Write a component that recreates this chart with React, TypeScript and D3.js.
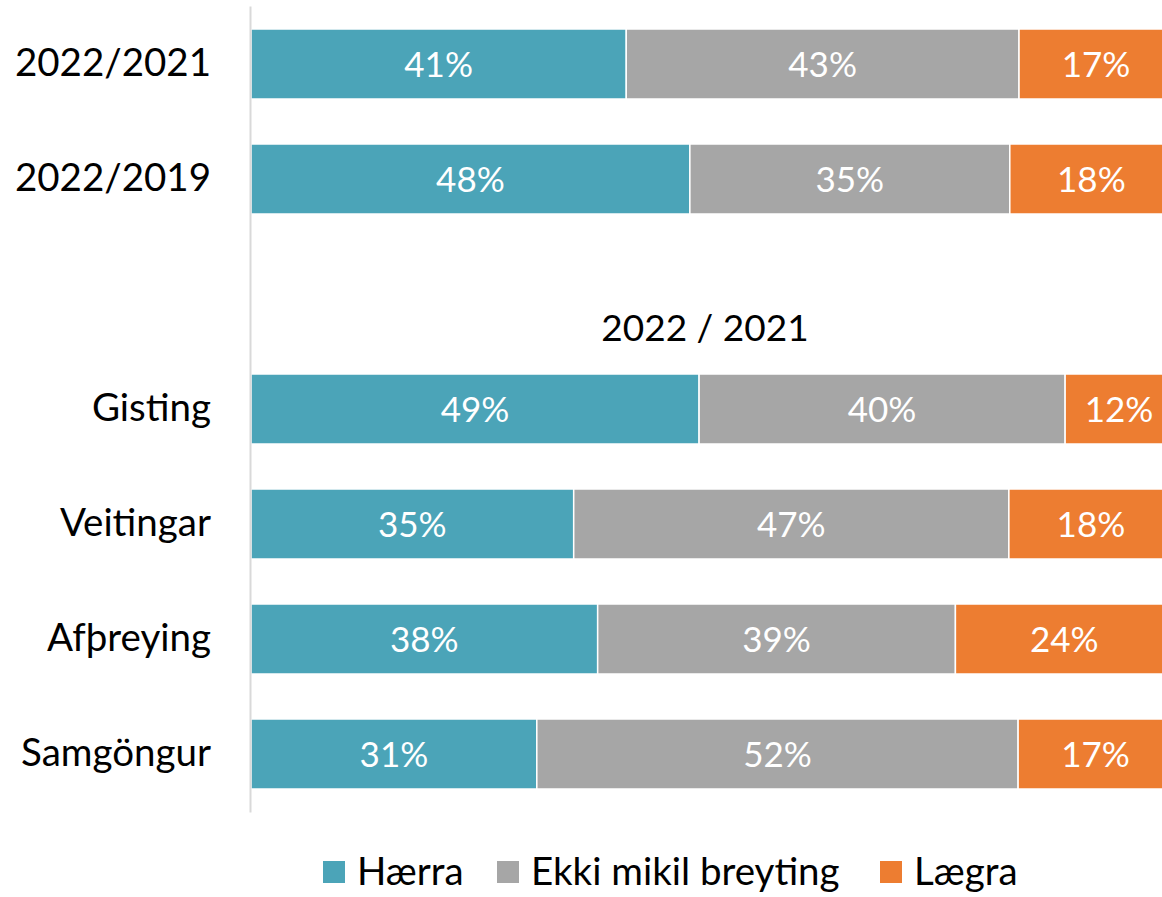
import { useEffect, useRef } from "react";
import * as d3 from "d3";

const categories = ["2022/2021", "2022/2019", "", "Gisting", "Veitingar", "Afþreying", "Samgöngur"];
const seriesNames = ["Hærra", "Ekki mikil breyting", "Lægra"];
const haerra = [40.7, 47.6, null, 48.6, 35.0, 37.6, 31.0];
const ekki = [42.6, 34.7, null, 39.7, 47.2, 38.8, 52.2];
const laegra = [16.7, 17.7, null, 11.7, 17.8, 23.6, 16.8];
const subtitle = "2022 / 2021";
const colors = ["#4BA4B8", "#A6A6A6", "#ED7D31"];

const FONT = "Lato, 'Open Sans', sans-serif";

export default function App() {
  const ref = useRef<HTMLDivElement>(null);

  useEffect(() => {
    const width = 1162;
    const height = 897;

    const svg = d3
      .select(ref.current)
      .html("")
      .append("svg")
      .attr("width", width)
      .attr("height", height)
      .style("position", "absolute")
      .style("left", 0)
      .style("top", 0)
      .style("font-family", FONT);

    const keys = categories.map((c, i) => c || `blank${i}`);
    const y = d3
      .scaleBand<string>()
      .domain(keys)
      .range([6, 812])
      .paddingInner(0.3913)
      .paddingOuter(0.2);

    // bars run past the right edge of the picture, like the source
    const x = d3.scaleLinear().domain([0, 100]).range([251, 1173]);

    const rows = categories
      .map((c, i) => ({ key: keys[i], vals: [haerra[i], ekki[i], laegra[i]] }))
      .filter((r) => r.vals[0] !== null) as { key: string; vals: number[] }[];

    const stacked = rows.flatMap((r) => {
      let acc = 0;
      return r.vals.map((v, s) => {
        const seg = { key: r.key, s, x0: acc, x1: acc + v, v };
        acc += v;
        return seg;
      });
    });

    svg
      .append("g")
      .selectAll("rect")
      .data(stacked)
      .join("rect")
      .attr("x", (d) => x(d.x0))
      .attr("y", (d) => y(d.key)!)
      .attr("width", (d) => x(d.x1) - x(d.x0))
      .attr("height", y.bandwidth())
      .attr("fill", (d) => colors[d.s])
      .attr("stroke", "#fff")
      .attr("stroke-width", 1.5);

    svg
      .append("g")
      .selectAll("text")
      .data(stacked)
      .join("text")
      .attr("x", (d) => (x(d.x0) + x(d.x1)) / 2)
      .attr("y", (d) => y(d.key)! + y.bandwidth() / 2)
      .attr("dy", "0.36em")
      .attr("text-anchor", "middle")
      .attr("fill", "#fff")
      .attr("font-size", 35)
      .text((d) => `${Math.round(d.v)}%`);

    const axis = svg
      .append("g")
      .attr("transform", `translate(250,0)`)
      .call(
        d3
          .axisLeft(y)
          .tickSize(0)
          .tickSizeOuter(0)
          .tickPadding(39)
          .tickFormat((k) => (k.startsWith("blank") ? "" : k))
      );
    axis.select(".domain").attr("stroke", "#D9D9D9").attr("stroke-width", 2);
    axis
      .selectAll("text")
      .attr("font-size", 38.5)
      .attr("font-family", FONT)
      .attr("fill", "#000");

    svg
      .append("text")
      .attr("x", 705)
      .attr("y", 328)
      .attr("dy", "0.36em")
      .attr("text-anchor", "middle")
      .attr("font-size", 37)
      .text(subtitle);

    // legend
    const legendX = [323, 497, 880];
    const lg = svg
      .append("g")
      .selectAll("g")
      .data(seriesNames)
      .join("g")
      .attr("transform", (_, i) => `translate(${legendX[i]},871)`);
    lg.append("rect")
      .attr("x", 0)
      .attr("y", -10)
      .attr("width", 22)
      .attr("height", 22)
      .attr("fill", (_, i) => colors[i]);
    lg.append("text")
      .attr("x", 34)
      .attr("dy", "0.36em")
      .attr("font-size", 38.5)
      .text((d) => d);
  }, []);

  return <div ref={ref} />;
}
